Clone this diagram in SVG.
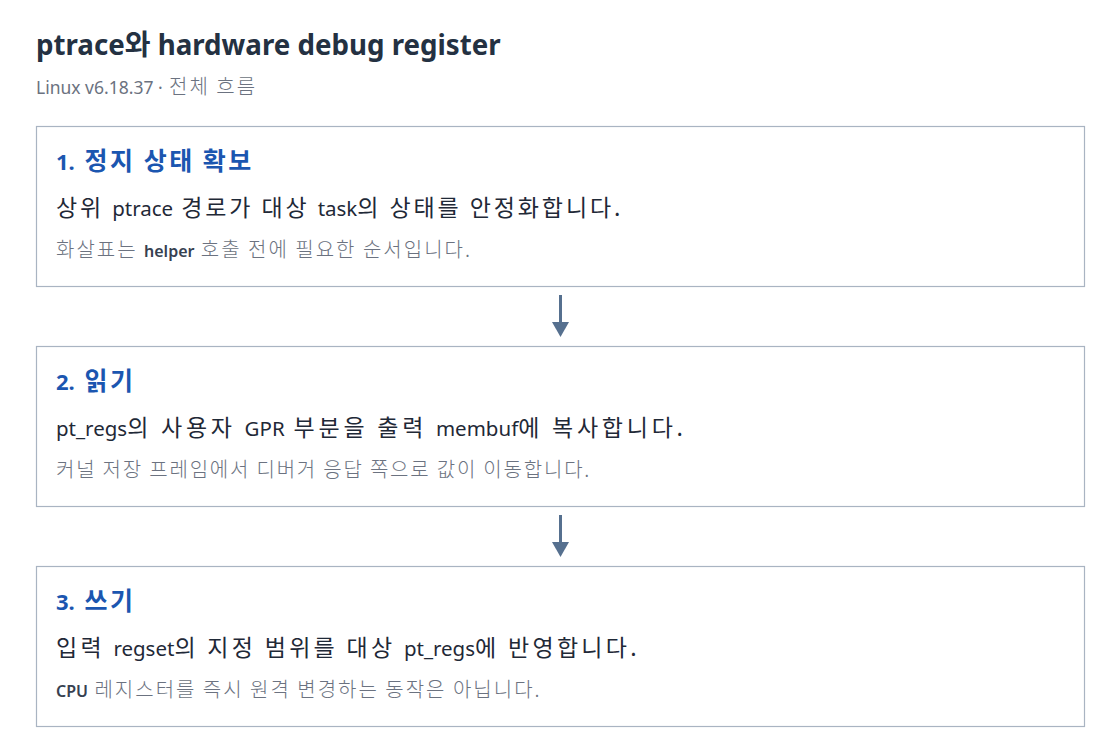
<svg xmlns="http://www.w3.org/2000/svg" width="1120" height="754" viewBox="0 0 1120 754">
<style>
text{font-family:"Noto Sans","Noto Sans CJK KR",sans-serif}
.k{font-family:"Noto Sans CJK KR","Noto Sans",sans-serif}
.title{font-size:27.7px;font-weight:700;fill:#243142}
.title .k{font-size:28px}
.sub{font-size:17.5px;fill:#6b7280}
.sub .k{font-size:20px;font-weight:300;letter-spacing:2px}
.box{fill:#ffffff;stroke:#a9b4c2;stroke-width:1.2}
.head{font-size:22px;font-weight:700;fill:#1b56b0}
.head .k{font-size:25px;letter-spacing:2.5px}
.main{font-size:20.5px;fill:#1f2937}
.main .k{font-size:23px;font-weight:400;letter-spacing:3.3px}
.note{font-size:16px;fill:#6b7280}
.note .k{font-size:20px;font-weight:300;letter-spacing:2px}
.em{fill:#374151;font-weight:600}
.conn{stroke:#56708f;stroke-width:3}
#node1 .main .k{letter-spacing:2.9px}
#node2 .main .k{letter-spacing:3.75px}
#node2 .note .k{letter-spacing:1.8px}
</style>
<rect width="1120" height="754" fill="#ffffff"/>
<text class="title" x="36" y="55">ptrace<tspan class="k">와</tspan> hardware debug register</text>
<text class="sub" x="36" y="94">Linux v6.18.37 ·<tspan class="k"> 전체 흐름</tspan></text>
<g id="connectors">
<line class="conn" x1="560.5" y1="295" x2="560.5" y2="324"/>
<path d="M552,322 L569,322 L560.5,337 Z" fill="#56708f"/>
<line class="conn" x1="560.5" y1="515" x2="560.5" y2="544"/>
<path d="M552,542 L569,542 L560.5,557 Z" fill="#56708f"/>
</g>
<g id="node1">
<rect class="box" x="36.5" y="126.5" width="1048" height="160"/>
<text class="head" x="56" y="170">1. <tspan class="k" dx="4">정지 상태 확보</tspan></text>
<text class="main" x="56" y="216"><tspan class="k">상위 </tspan>ptrace<tspan class="k"> 경로가 대상 </tspan>task<tspan class="k">의 상태를 안정화합니다.</tspan></text>
<text class="note" x="56" y="257"><tspan class="k">화살표는 </tspan><tspan class="em">helper</tspan><tspan class="k"> 호출 전에 필요한 순서입니다.</tspan></text>
</g>
<g id="node2">
<rect class="box" x="36.5" y="346.5" width="1048" height="160"/>
<text class="head" x="56" y="390">2. <tspan class="k" dx="4">읽기</tspan></text>
<text class="main" x="56" y="436">pt_regs<tspan class="k">의 사용자 </tspan>GPR<tspan class="k"> 부분을 출력 </tspan>membuf<tspan class="k">에 복사합니다.</tspan></text>
<text class="note" x="56" y="477"><tspan class="k">커널 저장 프레임에서 디버거 응답 쪽으로 값이 이동합니다.</tspan></text>
</g>
<g id="node3">
<rect class="box" x="36.5" y="566.5" width="1048" height="160"/>
<text class="head" x="56" y="610">3. <tspan class="k" dx="4">쓰기</tspan></text>
<text class="main" x="56" y="656"><tspan class="k">입력 </tspan>regset<tspan class="k">의 지정 범위를 대상 </tspan>pt_regs<tspan class="k">에 반영합니다.</tspan></text>
<text class="note" x="56" y="697"><tspan class="em">CPU</tspan><tspan class="k"> 레지스터를 즉시 원격 변경하는 동작은 아닙니다.</tspan></text>
</g>
</svg>
